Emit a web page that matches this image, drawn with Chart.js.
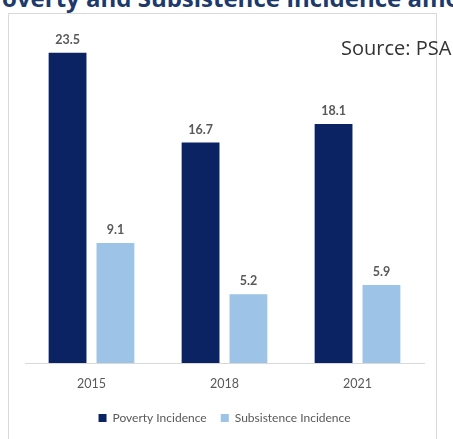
<!DOCTYPE html>
<html>
<head>
<meta charset="utf-8">
<script src="https://cdn.jsdelivr.net/npm/chart.js@4/dist/chart.umd.min.js"></script>
<style>
  html, body { margin: 0; padding: 0; background: #fff; }
  body { width: 453px; height: 439px; position: relative; overflow: hidden; }
  .title {
    position: absolute; left: -13px; top: -19px; white-space: nowrap;
    font: bold 24px "Open Sans", sans-serif; color: #1d3a6b;
  }
  .frame {
    position: absolute; left: 8px; top: 13px; width: 429px; height: 440px;
    border: 1px solid #d9d9d9; box-sizing: border-box;
  }
  .source {
    position: absolute; left: 341px; top: 34px; white-space: nowrap;
    font: 20px "Open Sans", sans-serif; color: #333;
  }
  #wrap { position: absolute; left: 0; top: 0; width: 453px; height: 439px; }
</style>
</head>
<body>
<div class="title">Poverty and Subsistence Incidence among Filipinos</div>
<div class="frame"></div>
<div id="wrap"><canvas id="chart"></canvas></div>
<div class="source">Source: PSA</div>
<script>
(function () {
  'use strict';

  const years = ['2015', '2018', '2021'];
  const poverty = [23.5, 16.7, 18.1];
  const subsistence = [9.1, 5.2, 5.9];

  const navy = '#0b2362';
  const lightBlue = '#9dc3e6';
  const font = 'Lato, "Open Sans", sans-serif';

  // value labels above each bar
  const valueLabels = {
    id: 'valueLabels',
    afterDatasetsDraw(chart) {
      const ctx = chart.ctx;
      ctx.save();
      ctx.font = 'bold 12.5px ' + font;
      ctx.fillStyle = '#595959';
      ctx.textAlign = 'center';
      ctx.textBaseline = 'middle';
      chart.data.datasets.forEach((ds, i) => {
        chart.getDatasetMeta(i).data.forEach((bar, j) => {
          ctx.fillText(ds.data[j].toFixed(1), bar.x, bar.y - 13);
        });
      });
      ctx.restore();
    }
  };

  const defaultLabels = Chart.defaults.plugins.legend.labels.generateLabels;

  new Chart(document.getElementById('chart'), {
    type: 'bar',
    data: {
      labels: years,
      datasets: [
        { label: 'Poverty Incidence', data: poverty, backgroundColor: navy },
        { label: 'Subsistence Incidence', data: subsistence, backgroundColor: lightBlue }
      ]
    },
    options: {
      responsive: true,
      maintainAspectRatio: false,
      animation: false,
      categoryPercentage: 0.72,
      barPercentage: 0.79,
      layout: { padding: { left: 25, right: 29, top: 33, bottom: 5 } },
      plugins: {
        legend: {
          position: 'bottom',
          labels: {
            boxWidth: 8, boxHeight: 8, padding: 8,
            color: '#595959', font: { family: font, size: 12 },
            // a little extra room after the first entry
            generateLabels(chart) {
              const items = defaultLabels(chart);
              items.forEach((it, i) => { if (i < items.length - 1) it.text += '  '; });
              return items;
            }
          }
        },
        tooltip: { enabled: false }
      },
      scales: {
        x: {
          grid: { display: false, drawTicks: false },
          border: { display: true, color: '#d9d9d9' },
          ticks: { color: '#595959', padding: 13, font: { family: font, size: 12.5 } }
        },
        y: { display: false, min: 0, max: 25 }
      }
    },
    plugins: [valueLabels]
  });
})();
</script>
</body>
</html>
